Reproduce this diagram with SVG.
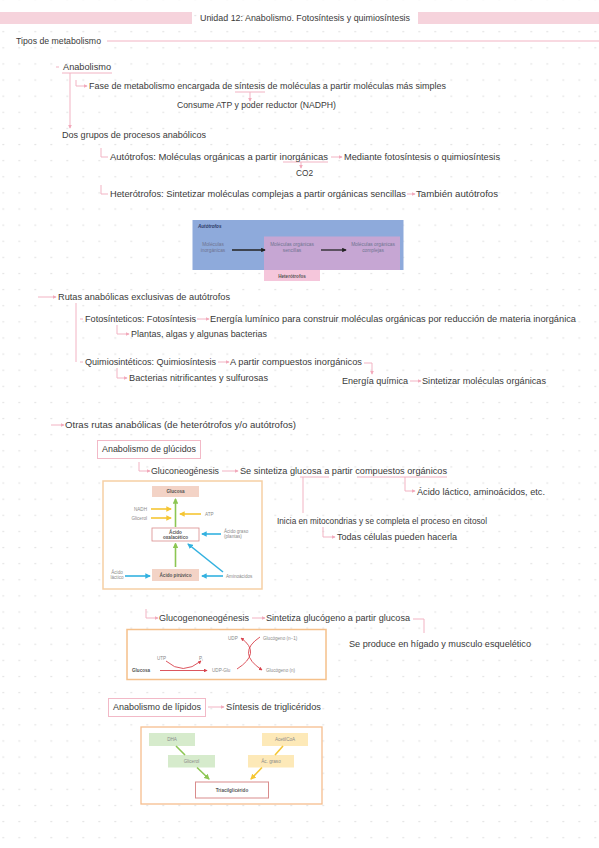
<svg xmlns="http://www.w3.org/2000/svg" width="599" height="848" viewBox="0 0 599 848">
<defs>
<style>
.t{font-family:"Liberation Sans",Arial,sans-serif;font-size:9.5px;fill:#3a3a3a}
.pk{fill:none;stroke:#f2b3c3;stroke-width:1}
.s{font-family:"Liberation Sans",Arial,sans-serif;font-size:4.6px;fill:#8a8a8a}
.sb{font-family:"Liberation Sans",Arial,sans-serif;font-size:4.6px;fill:#555;font-weight:bold}
.bl{font-family:"Liberation Sans",Arial,sans-serif;font-size:4.8px;fill:#6f7490}
</style>
<pattern id="dots" x="-4.7" y="-8.66" width="16" height="16.12" patternUnits="userSpaceOnUse"><circle cx="8" cy="8.06" r="0.8" fill="#dcdcdc"/></pattern>
<marker id="ap" viewBox="0 0 6 6" refX="5" refY="3" markerWidth="4" markerHeight="4" orient="auto"><path d="M0,0 L6,3 L0,6 z" fill="#f2a9bb"/></marker>
<marker id="ay" viewBox="0 0 6 6" refX="5" refY="3" markerWidth="3.5" markerHeight="3.5" orient="auto"><path d="M0,0 L6,3 L0,6 z" fill="#f5c633"/></marker>
<marker id="ag" viewBox="0 0 6 6" refX="5" refY="3" markerWidth="3.5" markerHeight="3.5" orient="auto"><path d="M0,0 L6,3 L0,6 z" fill="#8cc653"/></marker>
<marker id="ab" viewBox="0 0 6 6" refX="5" refY="3" markerWidth="3.5" markerHeight="3.5" orient="auto"><path d="M0,0 L6,3 L0,6 z" fill="#33b1e0"/></marker>
<marker id="ar" viewBox="0 0 6 6" refX="5" refY="3" markerWidth="4" markerHeight="4" orient="auto"><path d="M0,0 L6,3 L0,6 z" fill="#d8434d"/></marker>
<marker id="ak" viewBox="0 0 6 6" refX="5" refY="3" markerWidth="3.5" markerHeight="3.5" orient="auto"><path d="M0,0 L6,3 L0,6 z" fill="#222"/></marker>
</defs>
<rect width="599" height="848" fill="#ffffff"/>
<rect width="599" height="848" fill="url(#dots)"/>

<g id="header">
<rect x="0" y="12" width="192" height="12" fill="#f6d3dc"/>
<rect x="418" y="12" width="181" height="12" fill="#f6d3dc"/>
<text class="t" x="200" y="21" textLength="210" lengthAdjust="spacingAndGlyphs">Unidad 12: Anabolismo. Fotosíntesis y quimiosíntesis</text>
</g>

<g id="connectors">
<line class="pk" x1="107" y1="41" x2="599" y2="41"/>
<line class="pk" x1="56" y1="67" x2="59" y2="67"/>
<line class="pk" x1="62" y1="73" x2="112" y2="73"/>
<path class="pk" d="M70,73 V128" marker-end="url(#ap)"/>
<path class="pk" d="M76,80 V86 H87" marker-end="url(#ap)"/>
<line class="pk" x1="235" y1="92" x2="265" y2="92"/>
<path class="pk" d="M250,92 V101" marker-end="url(#ap)"/>
<path class="pk" d="M101,148 V157 H108"/>
<line class="pk" x1="283" y1="162" x2="328" y2="162"/>
<path class="pk" d="M301,162 V168" marker-end="url(#ap)"/>
<path class="pk" d="M331,157 H342" marker-end="url(#ap)"/>
<path class="pk" d="M101,185 V194 H108"/>
<path class="pk" d="M407,194 H415" marker-end="url(#ap)"/>
<path class="pk" d="M38,297 H56" marker-end="url(#ap)"/>
<path class="pk" d="M76,303 V362"/>
<line class="pk" x1="80" y1="319" x2="83" y2="319"/>
<line class="pk" x1="80" y1="362" x2="83" y2="362"/>
<path class="pk" d="M197,319 H209" marker-end="url(#ap)"/>
<path class="pk" d="M117,325 V334 H129" marker-end="url(#ap)"/>
<path class="pk" d="M218,362 H229" marker-end="url(#ap)"/>
<path class="pk" d="M364,363 H372 V374" marker-end="url(#ap)"/>
<path class="pk" d="M117,368 V378 H127" marker-end="url(#ap)"/>
<path class="pk" d="M410,381 H421" marker-end="url(#ap)"/>
<path class="pk" d="M51,425 H64" marker-end="url(#ap)"/>
<path class="pk" d="M139,462 V471 H150" marker-end="url(#ap)"/>
<path class="pk" d="M222,471 H238" marker-end="url(#ap)"/>
<line class="pk" x1="300" y1="477" x2="329" y2="477"/>
<line class="pk" x1="357" y1="477" x2="447" y2="477"/>
<path class="pk" d="M303,477 V513"/>
<path class="pk" d="M405,477 V491 H415" marker-end="url(#ap)"/>
<path class="pk" d="M323,527 V537 H335" marker-end="url(#ap)"/>
<path class="pk" d="M146,609 V618 H158" marker-end="url(#ap)"/>
<path class="pk" d="M252,618 H265" marker-end="url(#ap)"/>
<path class="pk" d="M413,619 H424 V633"/>
<path class="pk" d="M208,707 H224" marker-end="url(#ap)"/>
</g>

<g id="n-tipos"><text class="t" x="16" y="44" textLength="85" lengthAdjust="spacingAndGlyphs">Tipos de metabolismo</text></g>
<g id="n-anabolismo"><text class="t" x="63" y="70" textLength="48" lengthAdjust="spacingAndGlyphs">Anabolismo</text></g>
<g id="n-fase"><text class="t" x="89" y="89" textLength="357" lengthAdjust="spacingAndGlyphs">Fase de metabolismo encargada de síntesis de moléculas a partir moléculas más simples</text></g>
<g id="n-consume"><text class="t" x="177" y="108" textLength="159" lengthAdjust="spacingAndGlyphs">Consume ATP y poder reductor (NADPH)</text></g>
<g id="n-dos"><text class="t" x="62" y="138" textLength="144" lengthAdjust="spacingAndGlyphs">Dos grupos de procesos anabólicos</text></g>
<g id="n-auto"><text class="t" x="110" y="160" textLength="218" lengthAdjust="spacingAndGlyphs">Autótrofos: Moléculas orgánicas a partir inorgánicas</text></g>
<g id="n-mediante"><text class="t" x="344" y="160" textLength="156" lengthAdjust="spacingAndGlyphs">Mediante fotosíntesis o quimiosíntesis</text></g>
<g id="n-co2"><text class="t" x="296" y="176" textLength="17" lengthAdjust="spacingAndGlyphs">CO2</text></g>
<g id="n-hetero"><text class="t" x="110" y="197" textLength="296" lengthAdjust="spacingAndGlyphs">Heterótrofos: Sintetizar moléculas complejas a partir orgánicas sencillas</text></g>
<g id="n-tambien"><text class="t" x="416" y="197" textLength="82" lengthAdjust="spacingAndGlyphs">También autótrofos</text></g>

<g id="img-autotrofos">
<rect x="192.5" y="220" width="211" height="50" fill="#8eaadb"/>
<rect x="264" y="236.5" width="136" height="33.5" fill="#c6a6d3"/>
<rect x="264" y="270" width="56" height="11" fill="#f5c6db"/>
<text x="198" y="228" style="font-family:'Liberation Sans',Arial,sans-serif;font-size:4.6px;font-weight:bold;font-style:italic;fill:#2d3a66">Autótrofos</text>
<text class="bl" x="213" y="246" text-anchor="middle">Moléculas</text>
<text class="bl" x="213" y="252" text-anchor="middle">inorgánicas</text>
<line x1="232" y1="250" x2="265" y2="250" stroke="#222" stroke-width="1.3" marker-end="url(#ak)"/>
<text class="bl" x="292" y="246" text-anchor="middle">Moléculas orgánicas</text>
<text class="bl" x="292" y="252" text-anchor="middle">sencillas</text>
<line x1="321" y1="250" x2="346" y2="250" stroke="#222" stroke-width="1.3" marker-end="url(#ak)"/>
<text class="bl" x="373" y="246" text-anchor="middle">Moléculas orgánicas</text>
<text class="bl" x="373" y="252" text-anchor="middle">complejas</text>
<text x="292" y="277.5" text-anchor="middle" style="font-family:'Liberation Sans',Arial,sans-serif;font-size:4.6px;font-weight:bold;fill:#555">Heterótrofos</text>
</g>

<g id="n-rutas"><text class="t" x="58" y="300" textLength="172" lengthAdjust="spacingAndGlyphs">Rutas anabólicas exclusivas de autótrofos</text></g>
<g id="n-foto"><text class="t" x="85" y="322" textLength="111" lengthAdjust="spacingAndGlyphs">Fotosínteticos: Fotosíntesis</text></g>
<g id="n-energia-lum"><text class="t" x="210" y="322" textLength="366" lengthAdjust="spacingAndGlyphs">Energía lumínico para construir moléculas orgánicas por reducción de materia inorgánica</text></g>
<g id="n-plantas"><text class="t" x="131" y="337" textLength="136" lengthAdjust="spacingAndGlyphs">Plantas, algas y algunas bacterias</text></g>
<g id="n-quimio"><text class="t" x="85" y="365" textLength="131" lengthAdjust="spacingAndGlyphs">Quimiosintéticos: Quimiosíntesis</text></g>
<g id="n-apartir"><text class="t" x="230" y="365" textLength="132" lengthAdjust="spacingAndGlyphs">A partir compuestos inorgánicos</text></g>
<g id="n-bacterias"><text class="t" x="129" y="381" textLength="139" lengthAdjust="spacingAndGlyphs">Bacterias nitrificantes y sulfurosas</text></g>
<g id="n-energia-q"><text class="t" x="342" y="384" textLength="66" lengthAdjust="spacingAndGlyphs">Energía química</text></g>
<g id="n-sintetizar"><text class="t" x="422" y="384" textLength="124" lengthAdjust="spacingAndGlyphs">Sintetizar moléculas orgánicas</text></g>

<g id="n-otras"><text class="t" x="65" y="428" textLength="231" lengthAdjust="spacingAndGlyphs">Otras rutas anabólicas (de heterótrofos y/o autótrofos)</text></g>
<g id="n-glucidos">
<rect x="97.5" y="440.5" width="103" height="18" fill="#fff" stroke="#f2b9c7" stroke-width="1"/>
<text class="t" x="102" y="452" textLength="94" lengthAdjust="spacingAndGlyphs">Anabolismo de glúcidos</text>
</g>
<g id="n-gluconeo"><text class="t" x="151" y="474" textLength="68" lengthAdjust="spacingAndGlyphs">Gluconeogénesis</text></g>
<g id="n-se-sintetiza"><text class="t" x="240" y="474" textLength="207" lengthAdjust="spacingAndGlyphs">Se sintetiza glucosa a partir compuestos orgánicos</text></g>
<g id="n-acido-lactico"><text class="t" x="417" y="495" textLength="128" lengthAdjust="spacingAndGlyphs">Ácido láctico, aminoácidos, etc.</text></g>
<g id="n-inicia"><text class="t" x="277" y="524" textLength="210" lengthAdjust="spacingAndGlyphs">Inicia en mitocondrias y se completa el proceso en citosol</text></g>
<g id="n-todas"><text class="t" x="337" y="540" textLength="120" lengthAdjust="spacingAndGlyphs">Todas células pueden hacerla</text></g>

<g id="img-gluconeo">
<rect x="103" y="481" width="159" height="108" fill="#fff" stroke="#f6cfa4" stroke-width="1.5"/>
<rect x="152" y="486" width="47" height="11" fill="#f3d3c6"/>
<text class="sb" x="175.5" y="493" text-anchor="middle">Glucosa</text>
<line x1="175.5" y1="527" x2="175.5" y2="499" stroke="#8cc653" stroke-width="1.6" marker-end="url(#ag)"/>
<text class="s" x="147" y="510.5" text-anchor="end">NADH</text>
<line x1="151" y1="509" x2="171" y2="509" stroke="#f5c633" stroke-width="1.6" marker-end="url(#ay)"/>
<text class="s" x="147" y="519.5" text-anchor="end">Glicerol</text>
<line x1="151" y1="518" x2="171" y2="518" stroke="#f5c633" stroke-width="1.6" marker-end="url(#ay)"/>
<line x1="201" y1="514" x2="180" y2="514" stroke="#f5c633" stroke-width="1.6" marker-end="url(#ay)"/>
<text class="s" x="205" y="515.5">ATP</text>
<rect x="152" y="528" width="47" height="13" fill="#fff" stroke="#d98c8c" stroke-width="0.8"/>
<text class="sb" x="175.5" y="533.5" text-anchor="middle">Ácido</text>
<text class="sb" x="175.5" y="538.8" text-anchor="middle">oxalacético</text>
<line x1="221" y1="534" x2="202" y2="534" stroke="#33b1e0" stroke-width="1.6" marker-end="url(#ab)"/>
<text class="s" x="224" y="532.5">Ácido graso</text>
<text class="s" x="224" y="537.5">(plantas)</text>
<line x1="175.5" y1="567" x2="175.5" y2="543.5" stroke="#8cc653" stroke-width="1.6" marker-end="url(#ag)"/>
<line x1="223" y1="572" x2="188" y2="544" stroke="#33b1e0" stroke-width="1.6" marker-end="url(#ab)"/>
<rect x="152" y="569" width="47" height="12" fill="#f3d3c6"/>
<text class="sb" x="175.5" y="576.8" text-anchor="middle">Ácido pirúvico</text>
<text class="s" x="117" y="574" text-anchor="middle">Ácido</text>
<text class="s" x="117" y="579" text-anchor="middle">láctico</text>
<line x1="125" y1="576" x2="150" y2="576" stroke="#33b1e0" stroke-width="1.6" marker-end="url(#ab)"/>
<line x1="223" y1="576" x2="202" y2="576" stroke="#33b1e0" stroke-width="1.6" marker-end="url(#ab)"/>
<text class="s" x="226" y="577.5">Aminoácidos</text>
</g>

<g id="n-glucogeno"><text class="t" x="159" y="621" textLength="90" lengthAdjust="spacingAndGlyphs">Glucogenoneogénesis</text></g>
<g id="n-sintetiza-gluc"><text class="t" x="266" y="621" textLength="144" lengthAdjust="spacingAndGlyphs">Sintetiza glucógeno a partir glucosa</text></g>
<g id="n-se-produce"><text class="t" x="349" y="647" textLength="182" lengthAdjust="spacingAndGlyphs">Se produce en hígado y musculo esquelético</text></g>

<g id="img-glucogeno">
<rect x="127" y="629.5" width="199" height="50" fill="#fff" stroke="#f5c08a" stroke-width="1.5"/>
<text class="s" x="228" y="639.5">UDP</text>
<text class="s" x="263" y="639.5">Glucógeno (n−1)</text>
<text class="s" x="157" y="659.5">UTP</text>
<text class="s" x="199" y="659.5">P<tspan font-size="3.2" dy="1">i</tspan></text>
<text class="sb" x="132" y="672">Glucosa</text>
<text class="s" x="212" y="672">UDP-Glu</text>
<text class="s" x="266" y="672">Glucógeno (n)</text>
<path d="M160,670.5 H207" stroke="#d8434d" stroke-width="0.9" fill="none" marker-end="url(#ar)"/>
<path d="M166,661 Q183,676 201,661" stroke="#d8434d" stroke-width="0.9" fill="none" marker-end="url(#ar)"/>
<path d="M237,669 Q262,653 241,638" stroke="#d8434d" stroke-width="0.9" fill="none" marker-end="url(#ar)"/>
<path d="M260,637 Q236,653 262,670" stroke="#d8434d" stroke-width="0.9" fill="none" marker-end="url(#ar)"/>
</g>

<g id="n-lipidos">
<rect x="108.5" y="698.5" width="97" height="18" fill="#fff" stroke="#f2b9c7" stroke-width="1"/>
<text class="t" x="113" y="710" textLength="88" lengthAdjust="spacingAndGlyphs">Anabolismo de lípidos</text>
</g>
<g id="n-sintesis-tri"><text class="t" x="226" y="710" textLength="95" lengthAdjust="spacingAndGlyphs">Síntesis de triglicéridos</text></g>

<g id="img-lipidos">
<rect x="141" y="727" width="181" height="77" fill="#fff" stroke="#f6be8e" stroke-width="1.3"/>
<rect x="149" y="733" width="46" height="13" fill="#d6ebcc"/>
<text class="s" x="172" y="741.3" text-anchor="middle">DHA</text>
<rect x="168" y="755" width="47" height="12.5" fill="#d6ebcc"/>
<text class="s" x="191.5" y="763" text-anchor="middle">Glicerol</text>
<rect x="262" y="733" width="46" height="13" fill="#fde9b8"/>
<text class="s" x="285" y="741.3" text-anchor="middle">AcetilCoA</text>
<rect x="248" y="755" width="46" height="12.5" fill="#fde9b8"/>
<text class="s" x="271" y="763" text-anchor="middle">Ác. graso</text>
<rect x="195.5" y="782" width="73" height="16" fill="#fff" stroke="#d98c8c" stroke-width="1"/>
<text class="sb" x="232" y="791.5" text-anchor="middle">Triacilglicérido</text>
<line x1="176" y1="746" x2="185" y2="755" stroke="#8cc653" stroke-width="1.6"/>
<line x1="197" y1="767.5" x2="209" y2="779" stroke="#8cc653" stroke-width="1.6" marker-end="url(#ag)"/>
<line x1="283" y1="746" x2="275" y2="755" stroke="#f5c633" stroke-width="1.6"/>
<line x1="262" y1="767.5" x2="251" y2="779" stroke="#f5c633" stroke-width="1.6" marker-end="url(#ay)"/>
</g>
</svg>
